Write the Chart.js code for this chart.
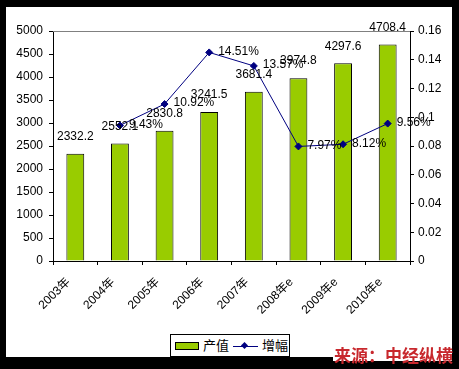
<!DOCTYPE html>
<html><head><meta charset="utf-8">
<script src="https://cdn.jsdelivr.net/npm/chart.js@4"></script>
<style>
html,body{margin:0;padding:0;background:#000;}
#wrap{position:relative;width:459px;height:369px;background:#000;overflow:hidden;}
#inner{position:absolute;left:6px;top:7px;width:446px;height:350px;background:#fff;}
#c{position:absolute;left:0;top:0;}
#legend{position:absolute;left:170px;top:334px;width:120px;height:23px;border:1px solid #000;box-sizing:border-box;background:#fff;font:13px "Liberation Sans","Noto Sans CJK SC",sans-serif;color:#000;}
#legend .sw{position:absolute;left:4px;top:7px;width:24px;height:8px;background:#99CC00;border:1px solid #000;box-sizing:border-box;}
#legend .t1{position:absolute;left:32px;top:3px;line-height:15px;}
#legend .ln{position:absolute;left:62px;top:11px;width:25px;height:1px;background:#000080;}
#legend .dm{position:absolute;left:71px;top:8px;width:5px;height:5px;background:#000080;transform:rotate(45deg);}
#legend .t2{position:absolute;left:91px;top:3px;line-height:15px;}
#src{position:absolute;left:333px;top:346px;width:119px;height:15px;background:#fff;}
#srct{position:absolute;left:334px;top:345px;font:bold 17px "Noto Sans CJK SC",sans-serif;color:#c8282d;line-height:19px;white-space:nowrap;}
</style>
</head><body>
<div id="wrap">
<div id="inner"></div>
<canvas id="c" width="459" height="369"></canvas>
<div id="legend"><div class="sw"></div><span class="t1">产值</span><div class="ln"></div><div class="dm"></div><span class="t2">增幅</span></div>
<div id="src"></div>
<div id="srct">来源：中经纵横</div>
</div>
<script>
const categories = ['2003年','2004年','2005年','2006年','2007年','2008年e','2009年e','2010年e'];
const outputValues = [2332.2, 2552.1, 2830.8, 3241.5, 3681.4, 3974.8, 4297.6, 4708.4];
const growthValues = [null, 0.0943, 0.1092, 0.1451, 0.1357, 0.0797, 0.0812, 0.0956];
const leftTicks = [0,500,1000,1500,2000,2500,3000,3500,4000,4500,5000];
const rightTicks = ['0','0.02','0.04','0.06','0.08','0.1','0.12','0.14','0.16'];

const FONT = {family:'"Liberation Sans","Noto Sans CJK SC",sans-serif', size:12};

const labelPlugin = {
  id:'labels',
  afterDatasetsDraw(chart){
    const ctx = chart.ctx;
    ctx.save();
    ctx.font = '12px "Liberation Sans","Noto Sans CJK SC",sans-serif';
    ctx.fillStyle = '#000';
    const barMeta = chart.getDatasetMeta(0);
    barMeta.data.forEach((el,i)=>{
      ctx.textAlign='center'; ctx.textBaseline='middle';
      ctx.fillText(String(outputValues[i].toFixed(1)), el.x, el.y-17);
    });
    const lineMeta = chart.getDatasetMeta(1);
    lineMeta.data.forEach((el,i)=>{
      if (growthValues[i]==null) return;
      ctx.textAlign='left'; ctx.textBaseline='middle';
      ctx.fillText((growthValues[i]*100).toFixed(2)+'%', el.x+9, el.y-1);
    });
    ctx.restore();
  }
};
const topLine = {
  id:'topLine',
  beforeDatasetsDraw(chart){
    const a = chart.chartArea, ctx = chart.ctx;
    ctx.save();
    ctx.strokeStyle='#808080'; ctx.lineWidth=1;
    ctx.beginPath(); ctx.moveTo(a.left, a.top+0.5); ctx.lineTo(a.right, a.top+0.5); ctx.stroke();
    ctx.restore();
  }
};

new Chart(document.getElementById('c'), {
  data:{
    labels:categories,
    datasets:[
      {type:'bar', label:'产值', data:outputValues, yAxisID:'y', backgroundColor:'#99CC00', borderColor:'#000', borderWidth:1, barPercentage:0.4, categoryPercentage:1, order:1},
      {type:'line', label:'增幅', data:growthValues, yAxisID:'y1', borderColor:'#000080', backgroundColor:'#000080', borderWidth:1, pointStyle:'rectRot', pointRadius:3.5, pointBackgroundColor:'#000080', pointBorderColor:'#000080', tension:0, order:0}
    ]
  },
  options:{
    responsive:false, animation:false, devicePixelRatio:1,
    layout:{padding:{top:31,left:0,right:0,bottom:0}},
    plugins:{legend:{display:false}, tooltip:{enabled:false}},
    scales:{
      x:{
        grid:{display:true, drawOnChartArea:false, offset:true, tickLength:4, color:'#000'},
        border:{color:'#000'},
        ticks:{font:FONT, color:'#000', maxRotation:45, minRotation:45, padding:10, labelOffset:-7, autoSkip:false},
        afterFit(s){ s.height = 108; }
      },
      y:{
        position:'left', min:0, max:5000,
        afterBuildTicks(s){ s.ticks = leftTicks.map(v=>({value:v})); },
        grid:{display:true, drawOnChartArea:false, tickLength:4, color:'#000'},
        border:{color:'#000'},
        ticks:{font:FONT, color:'#000', padding:6, callback:(v)=>String(v)},
        afterFit(s){ s.width = 53; }
      },
      y1:{
        position:'right', min:0, max:0.16,
        afterBuildTicks(s){ s.ticks = rightTicks.map(v=>({value:parseFloat(v)})); },
        grid:{display:true, drawOnChartArea:false, tickLength:4, color:'#000'},
        border:{color:'#000'},
        ticks:{font:FONT, color:'#000', padding:4, callback:(v,i)=>rightTicks[i]},
        afterFit(s){ s.width = 49; }
      }
    }
  },
  plugins:[labelPlugin, topLine]
});
</script>
</body></html>
